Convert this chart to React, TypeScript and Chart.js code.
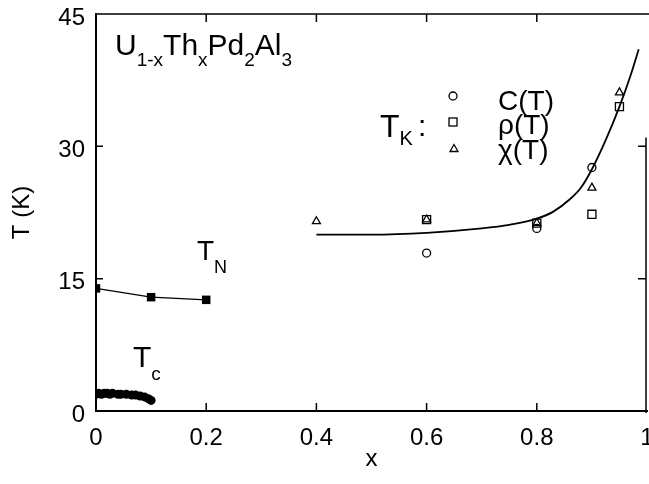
import React, { useEffect, useRef } from 'react';
import { Chart, registerables } from 'chart.js';

Chart.register(...registerables);

const FONT = '"Liberation Sans", Arial, Helvetica, sans-serif';

const X_TICKS = [0, 0.2, 0.4, 0.6, 0.8, 1];
const Y_TICKS = [0, 15, 30, 45];

// T_c (superconducting)
const TC_X = [0, 0.005, 0.01, 0.015, 0.02, 0.025, 0.03, 0.04, 0.045, 0.055, 0.065, 0.072, 0.08, 0.088, 0.095, 0.1];
const TC_Y = [1.9, 2.0, 1.9, 2.0, 2.0, 1.9, 2.0, 1.9, 1.9, 1.9, 1.8, 1.8, 1.7, 1.6, 1.4, 1.2];

// T_N (Neel)
const TN_X = [0, 0.1, 0.2];
const TN_Y = [13.9, 12.9, 12.6];

// T_K guide line
const FIT_X = [0.4, 0.5, 0.6, 0.7, 0.75, 0.8, 0.83, 0.86, 0.88, 0.9, 0.925, 0.95, 0.97, 0.985];
const FIT_Y = [20.0, 20.0, 20.2, 20.7, 21.1, 21.8, 22.6, 24.0, 25.3, 27.4, 30.7, 34.5, 38.0, 41.0];

// T_K from C(T), rho(T), chi(T)
const C_X = [0.6, 0.8, 0.9];
const C_Y = [17.9, 20.7, 27.6];
const RHO_X = [0.6, 0.8, 0.9, 0.95];
const RHO_Y = [21.7, 21.3, 22.3, 34.5];
const CHI_X = [0.4, 0.6, 0.8, 0.9, 0.95];
const CHI_Y = [21.5, 21.7, 21.3, 25.3, 36.1];

const LEGEND_LABELS = ['C(T)', 'ρ(T)', 'χ(T)'];

const pts = (xs: number[], ys: number[]) => xs.map((x, i) => ({ x, y: ys[i] }));

type Piece = [string, number, number]; // text, size, baselineShift

function drawPieces(ctx: CanvasRenderingContext2D, x: number, y: number, pieces: Piece[]) {
  let cx = x;
  for (const [t, size, dy] of pieces) {
    ctx.font = `${size}px ${FONT}`;
    ctx.fillText(t, cx, y + dy);
    cx += ctx.measureText(t).width;
  }
}

const decorPlugin = {
  id: 'decor',
  afterDatasetsDraw(chart: any) {
    const { ctx, chartArea: a, scales } = chart;
    const xs = scales.x;
    const ys = scales.y;
    ctx.save();
    ctx.strokeStyle = '#000';
    ctx.lineWidth = 1.5;
    ctx.beginPath();
    // top border
    ctx.moveTo(a.left, a.top);
    ctx.lineTo(a.right + 2, a.top);
    // right border (partial, as in the scan)
    const rx = a.right - 1;
    ctx.moveTo(rx, ys.getPixelForValue(31));
    ctx.lineTo(rx, a.bottom + 2);
    // inward x ticks
    X_TICKS.forEach((v) => {
      if (v > 0 && v < 1) {
        const px = xs.getPixelForValue(v);
        ctx.moveTo(px, a.bottom);
        ctx.lineTo(px, a.bottom - 8);
        ctx.moveTo(px, a.top);
        ctx.lineTo(px, a.top + 8);
      }
    });
    // inward y ticks
    Y_TICKS.forEach((v) => {
      const py = ys.getPixelForValue(v);
      if (v > 0 && v < 45) {
        ctx.moveTo(a.left, py);
        ctx.lineTo(a.left + 7, py);
      }
      if (v < 45) {
        ctx.moveTo(rx, py);
        ctx.lineTo(rx - 8, py);
      }
    });
    ctx.stroke();
    ctx.restore();
  },
  afterDraw(chart: any) {
    const { ctx } = chart;
    ctx.save();
    ctx.fillStyle = '#000';
    ctx.textBaseline = 'alphabetic';
    ctx.textAlign = 'left';
    // compound formula
    drawPieces(ctx, 115, 55, [
      ['U', 30, 0], ['1-x', 19, 11], ['Th', 30, 0], ['x', 19, 11],
      ['Pd', 30, 0], ['2', 19, 11], ['Al', 30, 0], ['3', 19, 11],
    ]);
    // T_N
    drawPieces(ctx, 197, 260, [['T', 28, 0], ['N', 18, 13]]);
    // T_c
    drawPieces(ctx, 133, 367, [['T', 30, 0], ['c', 19, 13]]);
    // T_K :
    drawPieces(ctx, 380, 137, [['T', 32, 0], ['K', 20, 8]]);
    ctx.font = `30px ${FONT}`;
    ctx.fillText(':', 418, 136);
    // legend labels
    const baselines = [110, 134, 159];
    ctx.font = `28px ${FONT}`;
    LEGEND_LABELS.forEach((t, i) => ctx.fillText(t, 498, baselines[i]));
    // legend markers
    ctx.strokeStyle = '#000';
    ctx.lineWidth = 1.3;
    ctx.beginPath();
    ctx.arc(453, 96, 4, 0, Math.PI * 2);
    ctx.stroke();
    ctx.strokeRect(449, 118, 8, 8);
    ctx.beginPath();
    ctx.moveTo(454, 144.5);
    ctx.lineTo(458, 151.5);
    ctx.lineTo(450, 151.5);
    ctx.closePath();
    ctx.stroke();
    ctx.restore();
  },
};

export default function App() {
  const ref = useRef<HTMLCanvasElement | null>(null);
  useEffect(() => {
    if (!ref.current) return;
    const tickFont = { family: FONT, size: 24 };
    const chart = new Chart(ref.current, {
      type: 'scatter',
      data: {
        datasets: [
          {
            label: 'Tc',
            data: pts(TC_X, TC_Y),
            pointStyle: 'circle',
            pointRadius: 4.5,
            backgroundColor: '#000',
            borderColor: '#000',
            borderWidth: 0,
            showLine: false,
          },
          {
            label: 'TN',
            data: pts(TN_X, TN_Y),
            pointStyle: 'rect',
            pointRadius: 6,
            pointBackgroundColor: '#000',
            pointBorderColor: '#000',
            pointBorderWidth: 0,
            borderColor: '#000',
            borderWidth: 1.2,
            showLine: true,
          },
          {
            label: 'fit',
            data: pts(FIT_X, FIT_Y),
            pointRadius: 0,
            borderColor: '#000',
            borderWidth: 1.8,
            showLine: true,
            cubicInterpolationMode: 'monotone',
          },
          {
            label: 'C(T)',
            data: pts(C_X, C_Y),
            pointStyle: 'circle',
            pointRadius: 4,
            backgroundColor: 'rgba(0,0,0,0)',
            borderColor: '#000',
            borderWidth: 1.3,
            showLine: false,
          },
          {
            label: 'rho(T)',
            data: pts(RHO_X, RHO_Y),
            pointStyle: 'rect',
            pointRadius: 5.7,
            backgroundColor: 'rgba(0,0,0,0)',
            borderColor: '#000',
            borderWidth: 1.3,
            showLine: false,
          },
          {
            label: 'chi(T)',
            data: pts(CHI_X, CHI_Y),
            pointStyle: 'triangle',
            pointRadius: 4.6,
            backgroundColor: 'rgba(0,0,0,0)',
            borderColor: '#000',
            borderWidth: 1.3,
            showLine: false,
          },
        ],
      } as any,
      options: {
        animation: false,
        responsive: false,
        maintainAspectRatio: false,
        events: [],
        layout: { autoPadding: false, padding: { top: 14, right: 2, left: 0, bottom: 0 } },
        plugins: { legend: { display: false }, tooltip: { enabled: false } },
        scales: {
          x: {
            type: 'linear',
            min: 0,
            max: 1,
            afterBuildTicks: (s: any) => {
              s.ticks = X_TICKS.map((v) => ({ value: v }));
            },
            ticks: {
              font: tickFont,
              color: '#000',
              padding: 13,
              maxRotation: 0,
              autoSkip: false,
              callback: (v: any) => String(Math.round(Number(v) * 10) / 10),
            },
            grid: { display: false, drawTicks: false },
            border: { display: true, color: '#000', width: 2 },
            title: {
              display: true,
              text: 'x',
              color: '#000',
              font: { family: FONT, size: 24 },
              padding: { top: 0, bottom: 10 },
            },
            afterFit: (s: any) => {
              s.height = 73;
              s.paddingLeft = 0;
              s.paddingRight = 0;
            },
          },
          y: {
            type: 'linear',
            min: 0,
            max: 45,
            afterBuildTicks: (s: any) => {
              s.ticks = Y_TICKS.map((v) => ({ value: v }));
            },
            ticks: {
              font: tickFont,
              color: '#000',
              padding: 11,
              labelOffset: 4,
              autoSkip: false,
            },
            grid: { display: false, drawTicks: false },
            border: { display: true, color: '#000', width: 2 },
            title: {
              display: true,
              text: 'T (K)',
              color: '#000',
              font: { family: FONT, size: 24 },
              padding: { top: 8, bottom: 0 },
            },
            afterFit: (s: any) => {
              s.width = 96;
              s.paddingTop = 0;
              s.paddingBottom = 0;
            },
          },
        },
      } as any,
      plugins: [decorPlugin],
    });
    return () => chart.destroy();
  }, []);
  return (
    <div style={{ position: 'absolute', left: 0, top: 0, width: 649, height: 484, background: '#fff' }}>
      <canvas ref={ref} width={649} height={484} style={{ width: 649, height: 484, display: 'block' }} />
    </div>
  );
}
